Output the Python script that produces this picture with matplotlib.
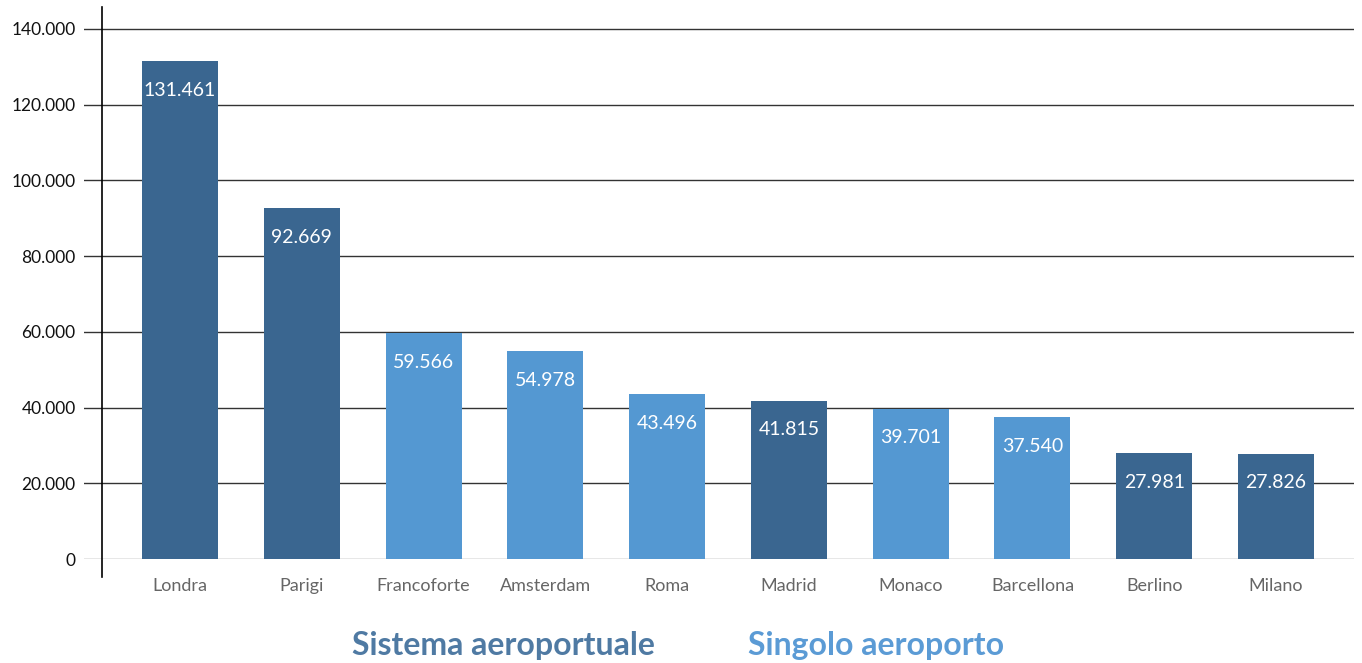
import numpy as np
import matplotlib.pyplot as plt

# passeggeri (migliaia) per città
citta = ['Londra', 'Parigi', 'Francoforte', 'Amsterdam', 'Roma',
         'Madrid', 'Monaco', 'Barcellona', 'Berlino', 'Milano']
passeggeri = [131461, 92669, 59566, 54978, 43496,
              41815, 39701, 37540, 27981, 27826]
sistema = [True, True, False, False, False, True, False, False, True, True]
y_ticks = [0, 20000, 40000, 60000, 80000, 100000, 120000, 140000]

scuro = '#3A6690'
chiaro = '#5498D2'

plt.rcParams['font.family'] = ['Lato', 'DejaVu Sans']

def fmt(v):
    return f'{v:,}'.replace(',', '.')

fig = plt.figure(figsize=(13.62, 6.63), dpi=100)
ax = fig.add_axes([84 / 1362, 1 - 559 / 663, (1354 - 84) / 1362, (559 - 7) / 663])

x = np.arange(len(citta))
colori = [scuro if s else chiaro for s in sistema]
bars = ax.bar(x, passeggeri, width=0.624, color=colori, zorder=3)

for b, v in zip(bars, passeggeri):
    ax.annotate(fmt(v), (b.get_x() + b.get_width() / 2, v), xytext=(0, -21),
                textcoords='offset points', ha='center', va='center',
                color='white', fontsize=14, zorder=4)

# linee orizzontali
for t in y_ticks:
    c = '#888888' if t == 0 else '#333333'
    ax.axhline(t, color=c, lw=1, zorder=1)

ax.set_xlim(-0.788, 9.64)
ax.set_ylim(0, 145800)
for s in ax.spines.values():
    s.set_visible(False)
ax.plot([-0.64, -0.64], [-4800, 145800], color='black', lw=1.2, clip_on=False, zorder=5)

ax.set_yticks(y_ticks)
ax.set_yticklabels([fmt(t) for t in y_ticks], fontsize=12.5, color='#111111')
ax.tick_params(axis='y', length=0, pad=6)
ax.set_xticks(x)
ax.set_xticklabels(citta, fontsize=13, color='#666666')
ax.tick_params(axis='x', length=0, pad=14)

fig.text(503 / 1362, 1 - 645 / 663, 'Sistema aeroportuale', ha='center', va='center',
         fontsize=23, fontweight='bold', color='#4F7AA3')
fig.text(876 / 1362, 1 - 645 / 663, 'Singolo aeroporto', ha='center', va='center',
         fontsize=23, fontweight='bold', color='#5B9BD5')

fig.savefig('out.png', dpi=100)
